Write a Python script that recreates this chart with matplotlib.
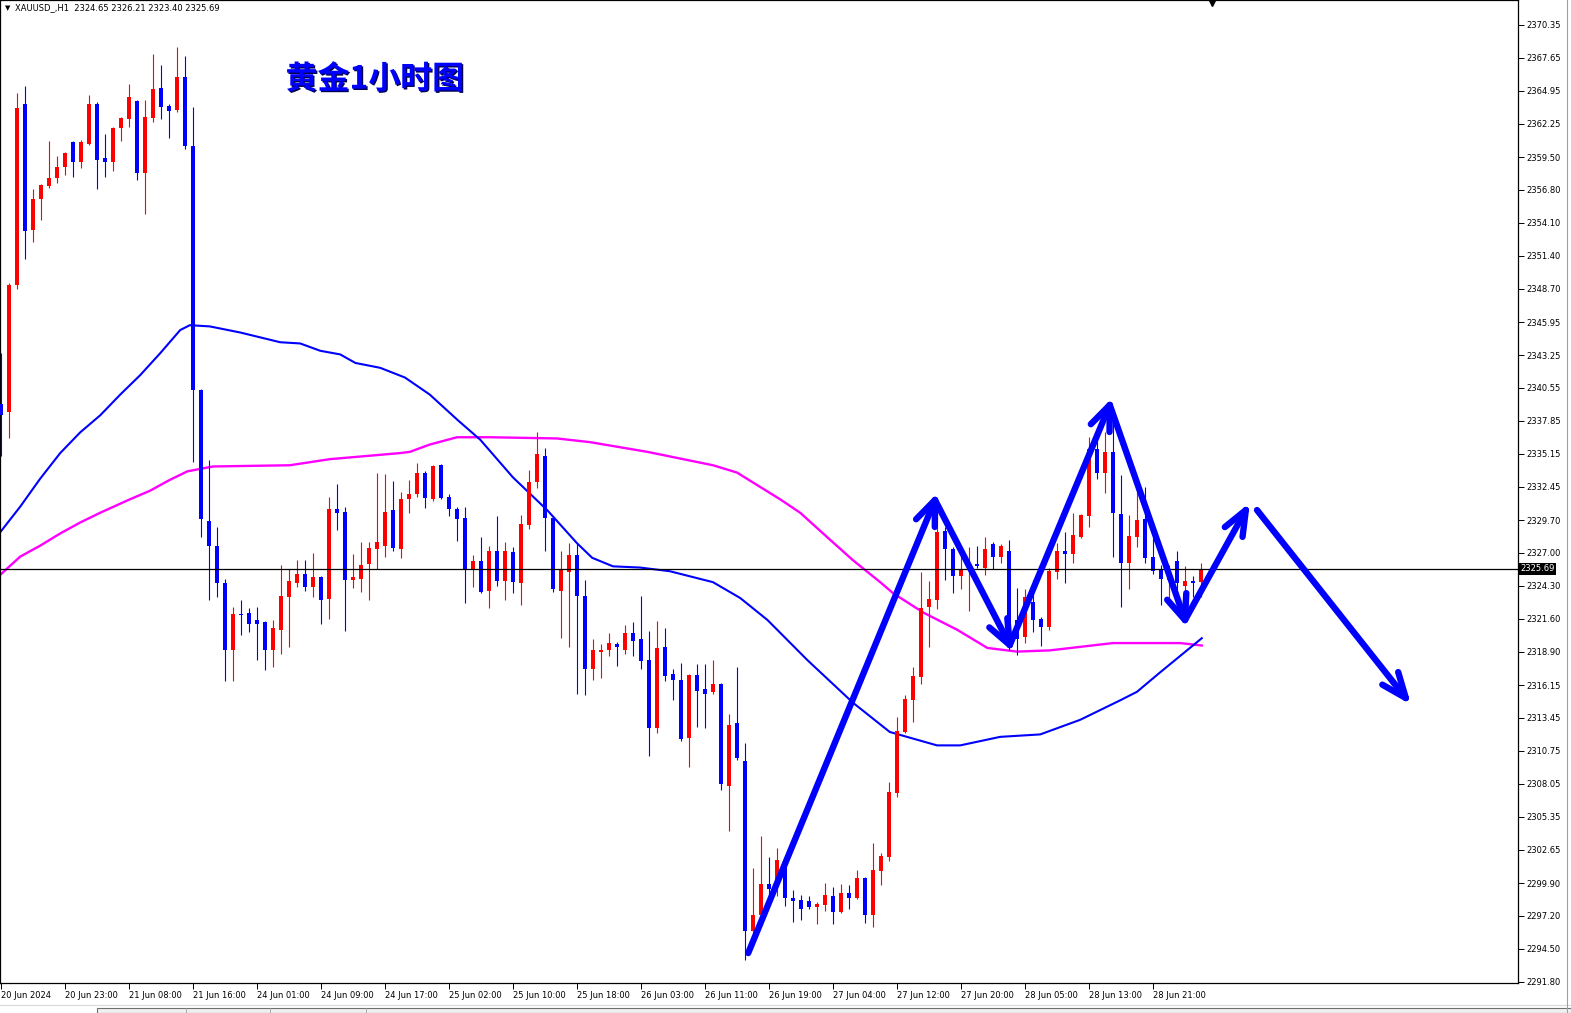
import numpy as np
import matplotlib
matplotlib.use("Agg")
import matplotlib.pyplot as plt
from matplotlib.patches import Rectangle
from matplotlib import patheffects as pe
import matplotlib.transforms as mtrans

plt.rcParams['font.family'] = ['DejaVu Sans']

# XAUUSD H1 蜡烛数据
opens = [2339.2, 2338.6, 2349.0, 2363.9, 2353.5, 2356.1, 2357.1, 2357.8, 2358.7, 2360.7,
         2359.1, 2360.6, 2363.9, 2359.4, 2359.1, 2361.9, 2362.6, 2364.1, 2358.2, 2362.7,
         2365.2, 2363.7, 2363.4, 2366.1, 2360.4, 2340.4, 2329.6, 2327.6, 2324.5, 2319.0,
         2322.0, 2322.1, 2321.5, 2321.3, 2319.0, 2320.7, 2323.4, 2324.5, 2325.3, 2324.2,
         2325.0, 2323.2, 2330.6, 2330.4, 2324.8, 2324.9, 2326.1, 2327.3, 2327.6, 2330.5,
         2327.3, 2331.4, 2331.8, 2333.6, 2331.4, 2334.2, 2331.6, 2330.6, 2329.9, 2325.6,
         2326.3, 2323.9, 2327.2, 2324.7, 2327.1, 2324.5, 2329.3, 2332.8, 2335.0, 2329.9,
         2323.9, 2325.4, 2326.8, 2323.5, 2317.5, 2318.9, 2319.0, 2319.5, 2319.0, 2320.4,
         2319.9, 2318.2, 2312.6, 2319.3, 2317.1, 2316.6, 2311.8, 2317.0, 2315.8, 2315.6,
         2316.2, 2307.9, 2313.0, 2309.9, 2296.0, 2297.3, 2299.8, 2299.6, 2301.8, 2298.7,
         2298.5, 2298.4, 2297.9, 2298.1, 2298.8, 2297.5, 2299.1, 2298.7, 2300.3, 2297.3,
         2300.9, 2302.0, 2307.3, 2312.3, 2314.9, 2316.8, 2322.6, 2323.1, 2328.8, 2327.3,
         2325.1, 2325.6, 2326.1, 2325.8, 2327.7, 2326.7, 2327.2, 2321.5, 2320.1, 2323.0,
         2321.6, 2320.9, 2325.4, 2327.2, 2326.9, 2328.3, 2330.0, 2335.5, 2333.6, 2335.3,
         2330.2, 2326.2, 2328.3, 2329.8, 2326.7, 2325.7, 2324.8, 2326.3, 2324.3, 2324.7,
         2324.65]
highs = [2343.4, 2349.2, 2364.8, 2365.3, 2356.9, 2357.3, 2360.8, 2359.6, 2359.9, 2360.8,
         2360.9, 2364.6, 2364.0, 2361.4, 2362.0, 2362.8, 2365.5, 2364.2, 2364.2, 2368.0,
         2367.1, 2363.9, 2368.5, 2367.8, 2363.6, 2340.5, 2334.6, 2329.1, 2324.9, 2322.6,
         2323.1, 2322.5, 2322.6, 2321.4, 2321.5, 2326.0, 2325.7, 2326.4, 2326.4, 2327.0,
         2325.1, 2331.6, 2332.7, 2330.8, 2326.9, 2327.9, 2327.9, 2333.6, 2333.5, 2332.9,
         2332.0, 2333.0, 2334.4, 2333.7, 2334.2, 2334.3, 2331.8, 2330.8, 2330.8, 2326.8,
         2328.3, 2327.6, 2330.0, 2327.9, 2327.5, 2330.1, 2333.8, 2336.9, 2335.6, 2330.0,
         2327.2, 2327.8, 2327.8, 2324.8, 2319.9, 2319.5, 2320.4, 2319.7, 2321.1, 2321.3,
         2323.5, 2320.6, 2321.4, 2320.8, 2317.5, 2318.0, 2317.1, 2317.9, 2317.9, 2318.2,
         2316.3, 2313.8, 2317.6, 2311.4, 2301.1, 2303.8, 2302.0, 2302.8, 2302.0, 2299.3,
         2298.9, 2298.8, 2298.3, 2299.9, 2299.6, 2299.8, 2299.7, 2301.0, 2300.4, 2303.2,
         2302.4, 2308.2, 2313.5, 2315.3, 2317.6, 2325.4, 2324.7, 2330.9, 2329.1, 2327.5,
         2326.9, 2327.5, 2327.6, 2328.3, 2327.9, 2327.7, 2328.1, 2324.1, 2324.0, 2324.8,
         2321.7, 2325.8, 2327.8, 2328.7, 2330.3, 2330.2, 2336.5, 2336.9, 2336.9, 2338.7,
         2333.4, 2330.1, 2332.3, 2332.4, 2328.2, 2326.0, 2326.0, 2327.2, 2325.9, 2325.1,
         2326.21]
lows = [2335.0, 2336.4, 2348.7, 2351.1, 2352.5, 2354.3, 2357.0, 2357.4, 2358.0, 2357.9,
        2358.6, 2360.5, 2356.9, 2357.9, 2358.4, 2360.8, 2362.0, 2357.6, 2354.8, 2362.4,
        2362.6, 2361.1, 2363.2, 2360.2, 2334.5, 2328.3, 2323.1, 2323.4, 2316.5, 2316.5,
        2320.3, 2320.5, 2318.2, 2317.4, 2317.6, 2318.7, 2319.3, 2324.2, 2323.9, 2323.4,
        2321.2, 2321.6, 2328.9, 2320.6, 2324.1, 2323.8, 2323.1, 2325.7, 2326.7, 2327.2,
        2326.6, 2330.3, 2331.6, 2330.7, 2331.3, 2331.4, 2330.0, 2328.0, 2322.9, 2324.2,
        2323.7, 2322.5, 2324.3, 2323.1, 2323.7, 2322.7, 2329.0, 2332.3, 2327.2, 2323.8,
        2320.0, 2319.3, 2315.4, 2315.3, 2316.6, 2316.7, 2318.5, 2317.7, 2318.7, 2318.5,
        2317.5, 2310.3, 2312.2, 2316.5, 2314.9, 2311.6, 2309.4, 2312.7, 2312.6, 2315.4,
        2307.5, 2304.2, 2310.0, 2293.6, 2295.2, 2297.1, 2298.3, 2298.8, 2298.0, 2296.7,
        2296.9, 2297.8, 2296.5, 2297.6, 2296.5, 2297.4, 2297.8, 2298.6, 2296.6, 2296.3,
        2299.7, 2301.7, 2307.0, 2312.2, 2313.1, 2316.2, 2319.3, 2322.4, 2324.8, 2323.7,
        2324.0, 2322.2, 2325.8, 2325.2, 2325.7, 2326.2, 2319.0, 2318.6, 2319.6, 2320.5,
        2319.4, 2320.7, 2324.9, 2324.5, 2326.2, 2328.2, 2329.1, 2333.1, 2331.9, 2326.7,
        2322.6, 2324.0, 2327.5, 2326.2, 2325.3, 2322.7, 2323.0, 2322.6, 2323.4, 2323.4,
        2323.40]
closes = [2338.3, 2349.0, 2363.5, 2353.4, 2356.1, 2357.2, 2357.8, 2358.7, 2359.8, 2359.1,
          2360.7, 2363.9, 2359.3, 2359.1, 2361.9, 2362.7, 2364.4, 2358.2, 2362.8, 2365.1,
          2363.6, 2363.3, 2366.1, 2360.4, 2340.4, 2329.8, 2327.6, 2324.5, 2319.0, 2322.0,
          2321.9, 2321.2, 2321.2, 2319.0, 2320.8, 2323.5, 2324.7, 2325.3, 2324.2, 2325.0,
          2323.1, 2330.6, 2330.3, 2324.8, 2325.0, 2326.0, 2327.4, 2327.9, 2330.4, 2327.4,
          2331.4, 2331.8, 2333.6, 2331.5, 2334.1, 2331.5, 2330.6, 2329.8, 2325.6, 2326.3,
          2323.8, 2327.2, 2324.7, 2327.2, 2324.6, 2329.4, 2332.8, 2335.1, 2329.9, 2324.0,
          2325.6, 2326.8, 2323.5, 2317.5, 2319.0, 2319.0, 2319.6, 2319.3, 2320.4, 2319.8,
          2318.1, 2312.6, 2319.2, 2316.9, 2316.6, 2311.7, 2317.0, 2315.7, 2315.4, 2316.2,
          2308.0, 2312.9, 2310.2, 2296.0, 2297.3, 2299.8, 2299.4, 2301.8, 2298.7, 2298.4,
          2297.8, 2297.9, 2298.2, 2298.9, 2297.5, 2299.1, 2298.7, 2300.3, 2297.3, 2301.0,
          2302.1, 2307.4, 2312.4, 2315.0, 2316.9, 2322.5, 2323.2, 2328.7, 2327.3, 2325.1,
          2325.7, 2326.0, 2325.9, 2327.3, 2326.7, 2327.6, 2321.2, 2319.9, 2323.4, 2321.5,
          2320.9, 2325.5, 2327.2, 2326.9, 2328.5, 2330.1, 2335.5, 2333.6, 2335.3, 2330.3,
          2326.2, 2328.4, 2329.7, 2326.6, 2325.5, 2324.9, 2325.4, 2324.5, 2324.7, 2324.5,
          2325.69]
last_price = 2325.69

# 两条均线 (K线序号, 价格)
ma_fast_x = [-0.1, 2.4, 4.9, 7.4, 9.9, 12.4, 14.9, 17.4, 19.9, 22.4, 23.6, 26.1, 29.9, 34.9,
             37.4, 39.9, 42.4, 44.3, 47.4, 50.5, 53.6, 57.1, 59.9, 64.0, 68.3, 72.0, 73.9,
             76.5, 79.9, 83.6, 89.0, 92.4, 95.8, 100.8, 106.5, 111.1, 117.0, 119.9, 124.9,
             129.9, 134.9, 139.9, 142.0, 144.9, 150.1]
ma_fast_y = [2328.7, 2330.8, 2333.1, 2335.2, 2336.9, 2338.3, 2340.0, 2341.6, 2343.4, 2345.3,
             2345.7, 2345.6, 2345.1, 2344.3, 2344.2, 2343.6, 2343.3, 2342.6, 2342.2, 2341.4,
             2340.0, 2337.9, 2336.3, 2333.2, 2330.5, 2327.8, 2326.6, 2325.9, 2325.8, 2325.5,
             2324.6, 2323.3, 2321.5, 2318.2, 2314.7, 2312.3, 2311.2, 2311.2, 2311.9, 2312.1,
             2313.3, 2314.9, 2315.6, 2317.2, 2320.0]
ma_slow_x = [-0.1, 2.4, 4.9, 7.4, 9.9, 12.4, 16.1, 18.6, 21.1, 23.3, 26.5, 36.1, 41.1, 49.9,
             51.1, 53.6, 57.0, 61.1, 69.5, 73.6, 80.8, 89.0, 92.0, 97.4, 99.9, 103.6, 106.5,
             109.9, 111.5, 115.3, 119.5, 123.3, 127.0, 131.1, 139.0, 147.4, 150.1]
ma_slow_y = [2325.2, 2326.7, 2327.6, 2328.6, 2329.5, 2330.3, 2331.4, 2332.1, 2333.0, 2333.7,
             2334.1, 2334.2, 2334.7, 2335.2, 2335.3, 2335.9, 2336.5, 2336.5, 2336.4, 2336.1,
             2335.3, 2334.2, 2333.6, 2331.4, 2330.3, 2328.1, 2326.4, 2324.6, 2323.7, 2322.1,
             2320.7, 2319.2, 2318.9, 2319.0, 2319.6, 2319.6, 2319.4]

# 坐标轴刻度
y_ticks = [2370.35, 2367.65, 2364.95, 2362.25, 2359.50, 2356.80, 2354.10, 2351.40, 2348.70,
           2345.95, 2343.25, 2340.55, 2337.85, 2335.15, 2332.45, 2329.70, 2327.00, 2324.30,
           2321.60, 2318.90, 2316.15, 2313.45, 2310.75, 2308.05, 2305.35, 2302.65, 2299.90,
           2297.20, 2294.50, 2291.80]
x_labels = ["20 Jun 2024", "20 Jun 23:00", "21 Jun 08:00", "21 Jun 16:00", "24 Jun 01:00",
            "24 Jun 09:00", "24 Jun 17:00", "25 Jun 02:00", "25 Jun 10:00", "25 Jun 18:00",
            "26 Jun 03:00", "26 Jun 11:00", "26 Jun 19:00", "27 Jun 04:00", "27 Jun 12:00",
            "27 Jun 20:00", "28 Jun 05:00", "28 Jun 13:00", "28 Jun 21:00"]

o = np.array(opens)
h = np.array(highs)
l = np.array(lows)
c = np.array(closes)
x = np.arange(len(o))
colors = np.where(c >= o, '#ff0000', '#0000ff')

W, H = 1571, 1013
fig = plt.figure(figsize=(W / 100, H / 100), dpi=100)
ax = fig.add_axes([0, 30 / H, 1518 / W, 983 / H])
ax.set_xlim(-0.125, 189.625)
ax.set_ylim(2291.69, 2372.40)

# 均线
ax.plot(ma_slow_x, ma_slow_y, color='#ff00ff', lw=1.7, zorder=2)
ax.plot(ma_fast_x, ma_fast_y, color='#0000ff', lw=1.5, zorder=2)

# 蜡烛
ax.vlines(x, l, h, colors=colors, lw=0.8, zorder=3)
body_lo = np.minimum(o, c)
body_h = np.maximum(np.abs(c - o), 0.09)
ax.bar(x, body_h, bottom=body_lo, width=0.62, color=colors, linewidth=0, zorder=3)

# 当前价格线
ax.axhline(last_price, color='black', lw=0.9, zorder=4)

# 手绘箭头 (K线序号, 价格)
arrow_path1 = [(93.4, 2294.15), (116.75, 2331.35), (126.1, 2319.44), (138.6, 2339.15),
               (148.0, 2321.49), (155.6, 2330.52)]
arrow_path2 = [(157.0, 2330.52), (175.6, 2315.09)]
fig.canvas.draw()
to_px = ax.transData
to_data = ax.transData.inverted()


def wings(p_from, p_to, length=27, ang=22):
    # 箭头两翼, 按像素方向计算
    a = np.array(to_px.transform(p_from))
    b = np.array(to_px.transform(p_to))
    d = a - b
    d = d / np.hypot(*d)
    out = []
    for s in (-1, 1):
        t = np.radians(s * ang)
        r = np.array([d[0] * np.cos(t) - d[1] * np.sin(t), d[0] * np.sin(t) + d[1] * np.cos(t)])
        out.append(to_data.transform(b + r * length))
    return out


arrow_kw = dict(color='#0000ff', lw=4.6, solid_capstyle='round', solid_joinstyle='round', zorder=5)
for path in (arrow_path1, arrow_path2):
    px, py = zip(*path)
    ax.plot(px, py, **arrow_kw)
    for k in range(1, len(path)):
        for wpt in wings(path[k - 1], path[k]):
            ax.plot([path[k][0], wpt[0]], [path[k][1], wpt[1]], **arrow_kw)

# 标题
ax.text(0.247, 0.919, "黄金1小时图", transform=ax.transAxes, ha='center', va='center',
        fontsize=23, fontweight='bold', color='#0000ff', family=['Noto Sans CJK SC'],
        path_effects=[pe.withSimplePatchShadow(offset=(1, -1), shadow_rgbFace='#000050', alpha=1.0)],
        zorder=6)

# 坐标轴样式
for s in ax.spines.values():
    s.set_color('black')
    s.set_linewidth(0.9)
ax.yaxis.tick_right()
ax.set_yticks(y_ticks)
ax.set_yticklabels([f"{v:.2f}" for v in y_ticks])
ax.tick_params(axis='y', direction='out', length=4, width=0.7, labelsize=6, pad=2, colors='black')
ax.set_xticks(np.arange(len(x_labels)) * 8)
ax.set_xticklabels(x_labels, ha='left')
ax.tick_params(axis='x', direction='out', length=4, width=0.7, labelsize=6, pad=1.5, colors='black')

# 右侧当前价标签
blend = mtrans.blended_transform_factory(ax.transAxes, ax.transData)
ax.text(1.0015, last_price, f"{last_price:.2f}", transform=blend, ha='left', va='center',
        fontsize=6, color='white', clip_on=False, zorder=7,
        bbox=dict(boxstyle='square,pad=0.15', facecolor='black', edgecolor='none'))

# 图表移位标记
ax.plot([1212 / 1518], [0.997], marker='v', color='black', markersize=5, transform=ax.transAxes,
        clip_on=False, zorder=7)

# 左上角信息
fig.text(5 / W, 1 - 8 / H, "▼", fontsize=5, va='center', ha='left')
fig.text(15 / W, 1 - 8 / H, "XAUUSD_,H1  2324.65 2326.21 2323.40 2325.69", fontsize=6,
         va='center', ha='left')

# 底部标签栏
fig.add_artist(Rectangle((97 / W, 0), 1 - 97 / W, 5 / H, transform=fig.transFigure,
                         facecolor='#f0f0f0', edgecolor='#707070', lw=0.8))
for sx in (186, 270, 366):
    fig.add_artist(plt.Line2D([sx / W, sx / W], [0, 5 / H], transform=fig.transFigure,
                              color='#a0a0a0', lw=0.6))
fig.add_artist(plt.Line2D([0, 1], [8 / H, 8 / H], transform=fig.transFigure, color='#d8d8d8', lw=0.8))
fig.add_artist(plt.Line2D([1567 / W, 1567 / W], [0, 1], transform=fig.transFigure,
                          color='#a0a0a0', lw=0.8))

fig.savefig("out.png", dpi=100)
